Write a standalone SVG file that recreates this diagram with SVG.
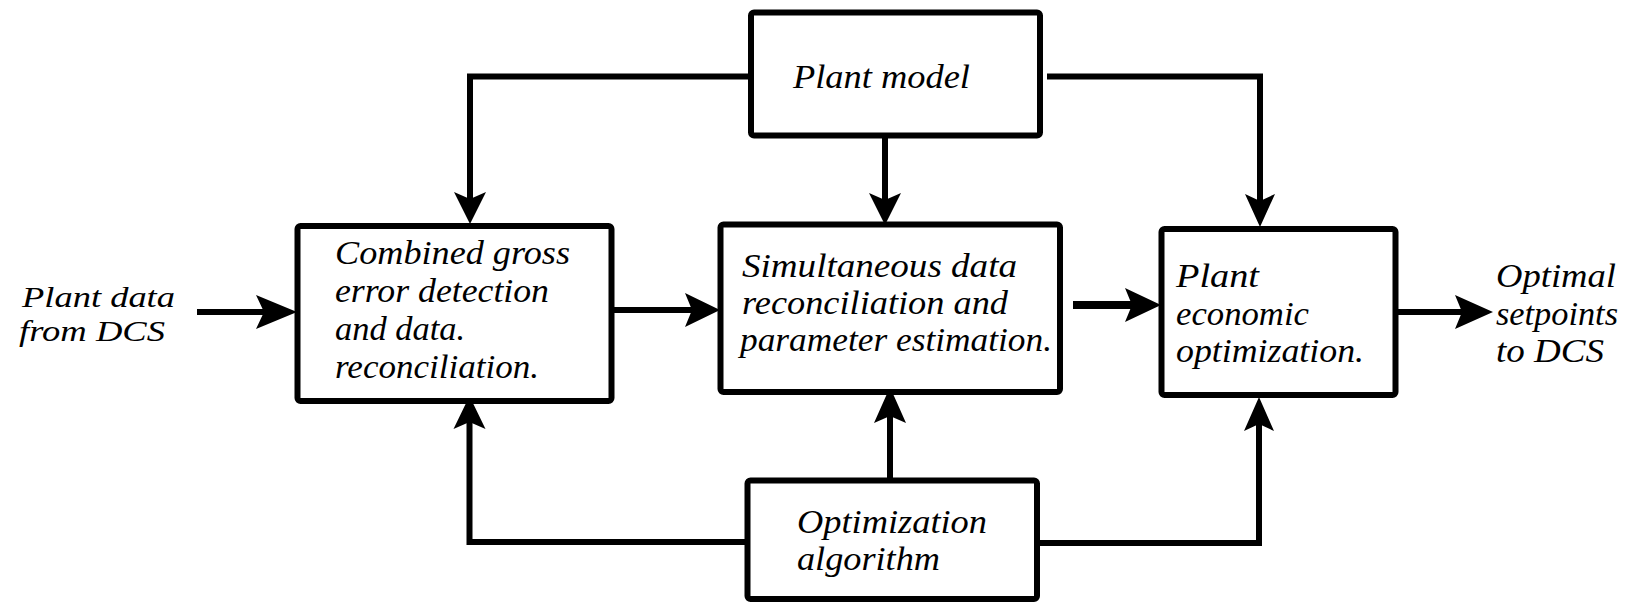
<svg xmlns="http://www.w3.org/2000/svg" width="1649" height="602" viewBox="0 0 1649 602">
<style>
.box{fill:#fff;stroke:#000;stroke-width:6;}
.ln{fill:none;stroke:#000;stroke-width:6;stroke-linejoin:miter;}
.thick{stroke-width:8;}
.hd{fill:#000;stroke:none;}
text{font-family:"Liberation Serif","Times New Roman",serif;font-style:italic;font-size:33px;fill:#000;}
.sm{font-size:30px;}
</style>
<rect width="1649" height="602" fill="#fff"/>
<g id="connectors">
  <path class="ln" d="M751,76.5 H470 V200"/>
  <polygon class="hd" points="470,224 454,192 470,199 486,192"/>
  <path class="ln" d="M885,136 V200"/>
  <polygon class="hd" points="885,225 869,193 885,200 901,193"/>
  <path class="ln" d="M1047,76.5 H1260 V202"/>
  <polygon class="hd" points="1260,227 1245,194 1260,201 1275,194"/>
  <path class="ln" d="M197,312 H268"/>
  <polygon class="hd" points="297,312 256,295 264,312 256,329"/>
  <path class="ln" d="M612,310 H695"/>
  <polygon class="hd" points="720,310 685,293 692,310 685,327"/>
  <path class="ln thick" d="M1073,305 H1135"/>
  <polygon class="hd" points="1161,305 1125,288 1132,305 1125,322"/>
  <path class="ln" d="M1398,312 H1465"/>
  <polygon class="hd" points="1493,312 1455,295 1462,312 1455,329"/>
  <path class="ln" d="M890,480 V412"/>
  <polygon class="hd" points="890,387 874,423 890,416 906,423"/>
  <path class="ln" d="M747,542 H469.5 V420"/>
  <polygon class="hd" points="469.5,396 453.5,429 469.5,422 485.5,429"/>
  <path class="ln" d="M1037,543 H1259 V422"/>
  <polygon class="hd" points="1259,397 1244,431 1259,424 1274,431"/>
</g>
<g id="plant-model">
  <rect class="box" x="751" y="12.5" width="289" height="123" rx="3"/>
  <text x="793" y="88" textLength="177" lengthAdjust="spacingAndGlyphs">Plant model</text>
</g>
<g id="gross-error">
  <rect class="box" x="297.5" y="226" width="314" height="175" rx="3"/>
  <text x="335" y="264" textLength="235" lengthAdjust="spacingAndGlyphs">Combined gross</text>
  <text x="335" y="302" textLength="214" lengthAdjust="spacingAndGlyphs">error detection</text>
  <text x="335" y="340" textLength="130" lengthAdjust="spacingAndGlyphs">and data.</text>
  <text x="335" y="378" textLength="204" lengthAdjust="spacingAndGlyphs">reconciliation.</text>
</g>
<g id="simultaneous">
  <rect class="box" x="720.5" y="224.5" width="339.5" height="167.5" rx="3"/>
  <text x="742" y="277" textLength="275" lengthAdjust="spacingAndGlyphs">Simultaneous data</text>
  <text x="742" y="314" textLength="266" lengthAdjust="spacingAndGlyphs">reconciliation and</text>
  <text x="740" y="351" textLength="312" lengthAdjust="spacingAndGlyphs">parameter estimation.</text>
</g>
<g id="economic">
  <rect class="box" x="1161.5" y="229" width="234" height="166" rx="3"/>
  <text x="1176" y="287" textLength="83" lengthAdjust="spacingAndGlyphs">Plant</text>
  <text x="1176" y="325" textLength="133" lengthAdjust="spacingAndGlyphs">economic</text>
  <text x="1176" y="362" textLength="188" lengthAdjust="spacingAndGlyphs">optimization.</text>
</g>
<g id="optimization">
  <rect class="box" x="747.5" y="480.5" width="289.5" height="118.5" rx="3"/>
  <text x="797" y="533" textLength="190" lengthAdjust="spacingAndGlyphs">Optimization</text>
  <text x="797" y="570" textLength="143" lengthAdjust="spacingAndGlyphs">algorithm</text>
</g>
<g id="input-label">
  <text class="sm" x="22" y="307" textLength="153" lengthAdjust="spacingAndGlyphs">Plant data</text>
  <text class="sm" x="19" y="341" textLength="146" lengthAdjust="spacingAndGlyphs">from DCS</text>
</g>
<g id="output-label">
  <text x="1496" y="287" textLength="120" lengthAdjust="spacingAndGlyphs">Optimal</text>
  <text x="1496" y="325" textLength="122" lengthAdjust="spacingAndGlyphs">setpoints</text>
  <text x="1496" y="362" textLength="108" lengthAdjust="spacingAndGlyphs">to DCS</text>
</g>
</svg>
